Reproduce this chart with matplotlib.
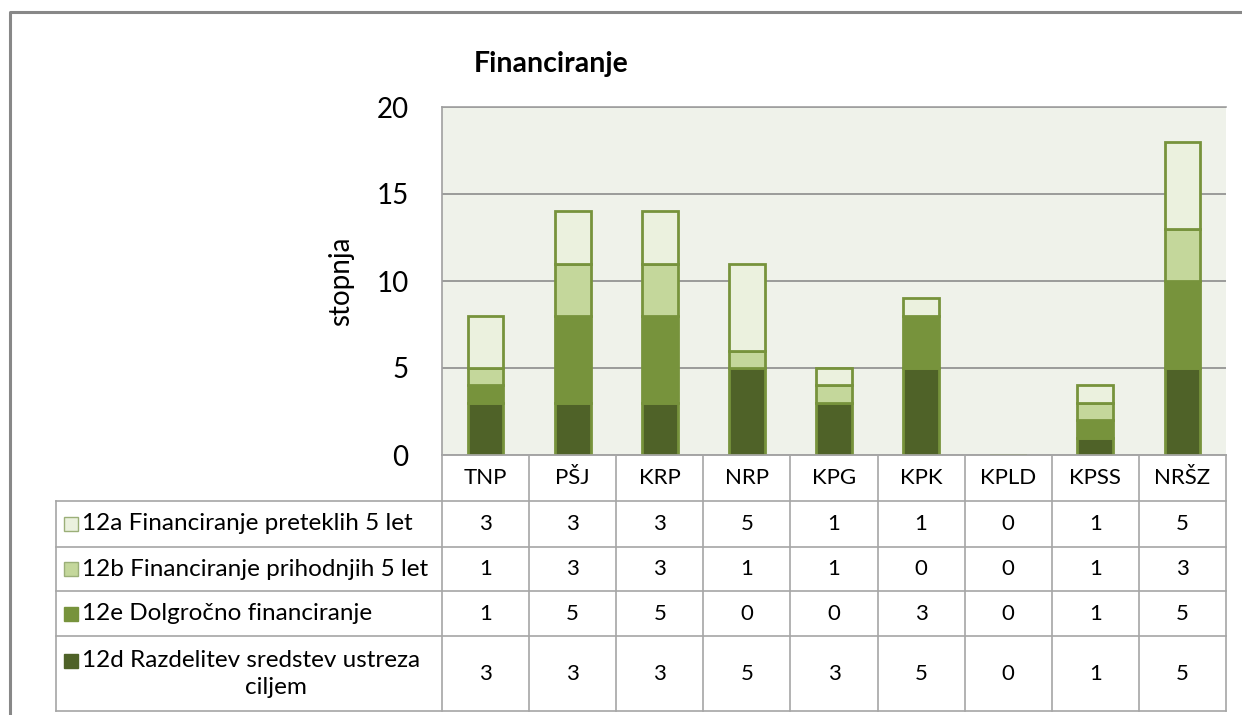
import matplotlib
matplotlib.use("Agg")
import matplotlib.pyplot as plt
from matplotlib.patches import Rectangle
import numpy as np

plt.rcParams['font.family'] = ['Lato', 'DejaVu Sans']

categories = ["TNP", "PŠJ", "KRP", "NRP", "KPG", "KPK", "KPLD", "KPSS", "NRŠZ"]
s12a = [3, 3, 3, 5, 1, 1, 0, 1, 5]
s12b = [1, 3, 3, 1, 1, 0, 0, 1, 3]
s12e = [1, 5, 5, 0, 0, 3, 0, 1, 5]
s12d = [3, 3, 3, 5, 3, 5, 0, 1, 5]
series_labels = ["12a Financiranje preteklih 5 let",
                 "12b Financiranje prihodnjih 5 let",
                 "12e Dolgročno financiranje",
                 "12d Razdelitev sredstev ustreza\nciljem"]
yticks = [0, 5, 10, 15, 20]
title = "Financiranje"
ylabel = "stopnja"

colors = {"12a": "#EBF1DE", "12b": "#C4D79B", "12e": "#77933C", "12d": "#4F6228"}
edge = "#77933C"

W, H = 1242, 715
fig = plt.figure(figsize=(W / 100, H / 100), dpi=100)

# pixel geometry
px_left, px_right, px_top, px_bottom = 442, 1226, 107, 455
ax = fig.add_axes([px_left / W, 1 - px_bottom / H, (px_right - px_left) / W, (px_bottom - px_top) / H])
ax.set_facecolor("#EFF2EA")
n = len(categories)
x = np.arange(n)
bottom = np.zeros(n)
stack = [("12d", s12d), ("12e", s12e), ("12b", s12b), ("12a", s12a)]
for key, vals in stack:
    v = np.array(vals, dtype=float)
    ax.bar(x, v, bottom=bottom, width=0.41, color=colors[key], edgecolor=edge, linewidth=2, zorder=3)
    bottom += v
ax.set_xlim(-0.5, n - 0.5)
ax.set_ylim(0, 20)
ax.set_yticks(yticks)
ax.yaxis.grid(True, color="#8C8C8C", linewidth=1.2, zorder=0)
ax.set_axisbelow(True)
ax.tick_params(axis='y', length=0, labelsize=20, pad=24)
ax.set_xticks([])
for sp in ["top", "left", "right", "bottom"]:
    ax.spines[sp].set_color("#A0A0A0")
    ax.spines[sp].set_linewidth(1.2)
ax.spines["right"].set_visible(False)
ax.set_ylabel(ylabel, fontsize=20, labelpad=16)

# overlay for table, title, frame
ov = fig.add_axes([0, 0, 1, 1])
ov.set_xlim(0, W)
ov.set_ylim(H, 0)
ov.axis("off")
ov.patch.set_alpha(0)

ov.text(551, 64, title, fontsize=20.5, fontweight="bold", ha="center", va="center")

# outer frame
ov.plot([10, 10, W], [H, 12, 12], color="#888888", lw=2.2, solid_capstyle="butt")

grid_c = "#A6A6A6"
col_w = (px_right - px_left) / n
row_y = [455, 501, 547, 591, 636, 711]
tbl_left = 56
# horizontal lines
ov.plot([px_left, px_right], [row_y[0], row_y[0]], color=grid_c, lw=1.2)
for yy in row_y[1:]:
    ov.plot([tbl_left, px_right], [yy, yy], color=grid_c, lw=1.2)
# vertical lines
for i in range(n + 1):
    xx = px_left + i * col_w
    ov.plot([xx, xx], [row_y[0], row_y[-1]], color=grid_c, lw=1.2)
ov.plot([tbl_left, tbl_left], [row_y[1], row_y[-1]], color=grid_c, lw=1.2)

# category labels
for i, c in enumerate(categories):
    ov.text(px_left + (i + 0.5) * col_w, (row_y[0] + row_y[1]) / 2, c, fontsize=16, ha="center", va="center")

rows = [("12a", s12a), ("12b", s12b), ("12e", s12e), ("12d", s12d)]
for r, ((key, vals), lab) in enumerate(zip(rows, series_labels)):
    yc = (row_y[r + 1] + row_y[r + 2]) / 2
    lines = lab.split("\n")
    if len(lines) == 1:
        sq_y = yc - 7
        ov.text(82, yc, lab, fontsize=17.5, ha="left", va="center")
    else:
        y1, y2 = yc - 13, yc + 14
        sq_y = y1 - 7
        ov.text(82, y1, lines[0], fontsize=17.5, ha="left", va="center")
        ov.text(276, y2, lines[1], fontsize=17.5, ha="center", va="center")
    ov.add_patch(Rectangle((64, sq_y), 14, 14,
                           facecolor=colors[key], edgecolor="#9BAF78" if key in ("12a", "12b") else colors[key], lw=1))
    for i, v in enumerate(vals):
        ov.text(px_left + (i + 0.5) * col_w, yc, str(v), fontsize=16, ha="center", va="center")

fig.savefig("out.png", dpi=100)
